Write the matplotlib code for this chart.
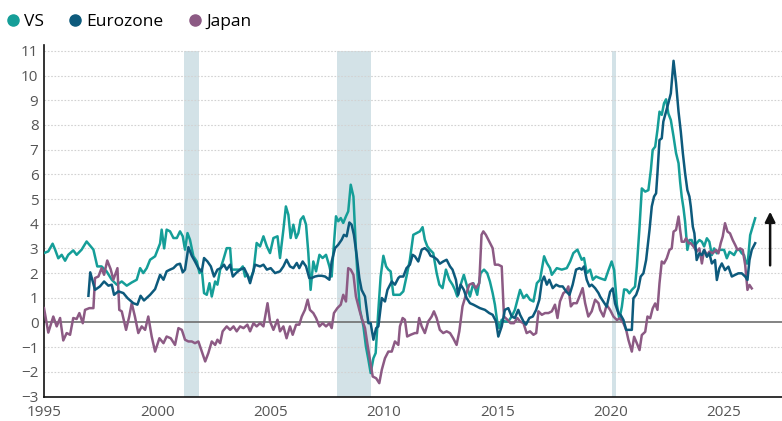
import matplotlib
matplotlib.use("Agg")
import matplotlib.pyplot as plt
from matplotlib.lines import Line2D

plt.rcParams["font.family"] = ["Open Sans", "DejaVu Sans"]

# inflation (% y/y)
vs_years = [1995.00, 1995.19, 1995.38, 1995.49, 1995.63, 1995.78, 1995.93, 1996.07, 1996.29, 1996.44, 1996.66, 1996.88, 1997.00, 1997.18, 1997.35, 1997.54, 1997.76, 1997.99, 1998.21, 1998.43, 1998.65, 1998.87, 1999.09, 1999.24, 1999.38, 1999.53, 1999.68, 1999.90,
            2000.12, 2000.19, 2000.30, 2000.41, 2000.56, 2000.71, 2000.86, 2001.00, 2001.12, 2001.22, 2001.33, 2001.44, 2001.59, 2001.74, 2001.86, 2001.96, 2002.06, 2002.18, 2002.30, 2002.40, 2002.55, 2002.65, 2002.77, 2002.91, 2003.06, 2003.21, 2003.28, 2003.43, 2003.65, 2003.77, 2003.87, 2003.97, 2004.09, 2004.24, 2004.38, 2004.53, 2004.68, 2004.83, 2004.97, 2005.12, 2005.30,
            2005.41, 2005.56, 2005.67, 2005.78, 2005.88, 2006.00, 2006.12, 2006.22, 2006.32, 2006.44, 2006.56, 2006.66, 2006.76, 2006.88, 2007.00, 2007.15, 2007.29, 2007.44, 2007.59, 2007.69, 2007.76, 2007.88, 2007.98, 2008.09, 2008.20, 2008.32, 2008.42, 2008.53, 2008.65, 2008.76, 2008.87, 2008.94, 2009.09, 2009.20, 2009.31, 2009.41, 2009.53, 2009.63, 2009.75, 2009.85, 2009.97, 2010.09, 2010.19, 2010.29, 2010.41, 2010.56,
            2010.70, 2010.85, 2010.99, 2011.14, 2011.29, 2011.44, 2011.58, 2011.70, 2011.80, 2011.91, 2012.02, 2012.17, 2012.32, 2012.44, 2012.58, 2012.73, 2012.88, 2013.02, 2013.13, 2013.23, 2013.38, 2013.52, 2013.64, 2013.79, 2013.94, 2014.11, 2014.26, 2014.41, 2014.55, 2014.67, 2014.79, 2014.89, 2014.99, 2015.08, 2015.19, 2015.33, 2015.48, 2015.63, 2015.77, 2015.92,
            2016.00, 2016.15, 2016.29, 2016.44, 2016.59, 2016.74, 2016.88, 2017.06, 2017.18, 2017.32, 2017.40, 2017.62, 2017.84, 2018.06, 2018.21, 2018.35, 2018.53, 2018.72, 2018.82, 2018.94, 2019.09, 2019.21, 2019.35,
            2019.53, 2019.75, 2019.90, 2020.04, 2020.15, 2020.27, 2020.38, 2020.49, 2020.59, 2020.71, 2020.82, 2020.93, 2021.07, 2021.15, 2021.27, 2021.37, 2021.52, 2021.66, 2021.77, 2021.85, 2021.96, 2022.06, 2022.15, 2022.25, 2022.35, 2022.44, 2022.54, 2022.65, 2022.77, 2022.88, 2022.99, 2023.06, 2023.13, 2023.21, 2023.28, 2023.38, 2023.47, 2023.57, 2023.68, 2023.79, 2023.91, 2024.02, 2024.12, 2024.24, 2024.35, 2024.46, 2024.56, 2024.68, 2024.79, 2024.90, 2025.00, 2025.12, 2025.24, 2025.34, 2025.44, 2025.56, 2025.68, 2025.78, 2025.88, 2025.97, 2026.04, 2026.15, 2026.26, 2026.37]
vs_values = [2.81, 2.88, 3.19, 2.95, 2.6, 2.74, 2.5, 2.74, 2.92, 2.74, 2.95, 3.28, 3.15, 2.95, 2.27, 2.27, 2.07, 1.73, 1.53, 1.66, 1.49, 1.62, 1.73, 2.2, 2.0, 2.2, 2.54, 2.68,
             3.2, 3.76, 3.0, 3.76, 3.69, 3.42, 3.42, 3.69, 3.49, 2.95, 3.62, 3.35, 2.68, 2.47, 2.0, 2.14, 1.19, 1.12, 1.59, 1.05, 1.66, 1.53, 2.14, 2.54, 3.01, 3.01, 2.14, 2.14, 2.14, 2.27, 1.86, 1.93, 1.73, 2.07, 3.22, 3.08, 3.49, 3.08, 2.81, 3.42, 3.49,
             2.61, 3.76, 4.7, 4.36, 3.42, 3.96, 3.42, 3.62, 4.16, 4.3, 3.96, 2.81, 1.32, 2.47, 2.07, 2.74, 2.61, 2.74, 2.27, 1.86, 2.81, 4.3, 4.1, 4.23, 4.03, 4.3, 4.5, 5.58, 5.1, 2.95, 1.32, 0.51, -0.16, -0.97, -1.51, -2.05, -1.45, -1.24, 0.51, 1.86, 2.7, 2.27, 2.14, 2.07, 1.12, 1.12,
             1.12, 1.26, 1.86, 2.54, 3.55, 3.62, 3.69, 3.86, 3.35, 3.08, 2.95, 2.81, 2.0, 1.53, 1.39, 2.14, 1.73, 1.53, 1.32, 1.05, 1.53, 1.93, 1.53, 1.05, 1.59, 1.12, 2.0, 2.14, 2.0, 1.66, 1.19, 0.72, 0.04, -0.23, 0.11, 0.04, 0.04, 0.24, 0.51, 1.05,
             1.32, 0.99, 1.12, 0.92, 0.85, 1.59, 1.73, 2.68, 2.41, 2.2, 1.93, 2.2, 2.14, 2.2, 2.47, 2.81, 2.95, 2.54, 2.61, 2.0, 2.14, 1.73, 1.86,
             1.79, 1.72, 2.12, 2.47, 2.12, 0.72, 0.13, 0.64, 1.34, 1.32, 1.18, 1.32, 1.45, 2.26, 3.88, 5.43, 5.3, 5.36, 6.18, 6.99, 7.12, 7.8, 8.54, 8.41, 8.88, 9.04, 8.47, 8.2, 7.53, 6.86, 6.45, 5.7, 5.1, 4.62, 4.08, 2.94, 3.34, 3.34, 3.08, 3.21, 3.34, 3.27, 3.08, 3.41, 3.27, 2.73, 3.0, 2.8, 2.94, 2.94, 2.94, 2.6, 2.86, 2.8, 2.73, 2.94, 2.94, 2.8, 2.73, 2.39, 2.39, 3.54, 3.88, 4.22]

ez_years = [1996.96, 1997.04, 1997.25, 1997.47, 1997.65, 1997.84, 1997.99, 1998.09, 1998.28, 1998.50, 1998.68, 1998.94, 1999.12, 1999.26, 1999.41, 1999.68, 1999.90,
            2000.12, 2000.27, 2000.41, 2000.56, 2000.71, 2000.86, 2001.00, 2001.12, 2001.22, 2001.37, 2001.52, 2001.66, 2001.81, 2001.96, 2002.06, 2002.21, 2002.36, 2002.50, 2002.65, 2002.80, 2002.94, 2003.06, 2003.21, 2003.33, 2003.47, 2003.65, 2003.83, 2003.97, 2004.09, 2004.31, 2004.53, 2004.68, 2004.83, 2005.00, 2005.19,
            2005.41, 2005.56, 2005.70, 2005.85, 2006.00, 2006.15, 2006.26, 2006.41, 2006.56, 2006.70, 2006.81, 2006.95, 2007.10, 2007.25, 2007.40, 2007.59, 2007.69, 2007.84, 2007.98, 2008.13, 2008.23, 2008.35, 2008.47, 2008.57, 2008.67, 2008.79, 2008.91, 2009.01, 2009.16, 2009.31, 2009.41, 2009.53, 2009.65, 2009.75, 2009.90, 2010.04, 2010.15, 2010.34, 2010.48, 2010.63,
            2010.70, 2010.85, 2010.99, 2011.14, 2011.26, 2011.36, 2011.51, 2011.66, 2011.80, 2011.95, 2012.05, 2012.20, 2012.35, 2012.46, 2012.61, 2012.76, 2012.91, 2013.02, 2013.17, 2013.27, 2013.38, 2013.52, 2013.64, 2013.79, 2013.94, 2014.08, 2014.23, 2014.45, 2014.64, 2014.79, 2014.94, 2015.04, 2015.19, 2015.33, 2015.48, 2015.63, 2015.77, 2015.92,
            2016.00, 2016.15, 2016.26, 2016.41, 2016.56, 2016.71, 2016.85, 2016.96, 2017.06, 2017.18, 2017.29, 2017.44, 2017.59, 2017.74, 2017.88, 2018.03, 2018.18, 2018.32, 2018.47, 2018.62, 2018.72, 2018.82, 2018.94, 2019.06, 2019.16, 2019.31, 2019.46,
            2019.53, 2019.68, 2019.82, 2019.97, 2020.09, 2020.19, 2020.34, 2020.44, 2020.56, 2020.68, 2020.82, 2020.93, 2021.00, 2021.12, 2021.22, 2021.32, 2021.44, 2021.56, 2021.71, 2021.81, 2021.91, 2022.00, 2022.06, 2022.15, 2022.25, 2022.32, 2022.44, 2022.54, 2022.65, 2022.77, 2022.88, 2022.99, 2023.09, 2023.18, 2023.28, 2023.38, 2023.47, 2023.53, 2023.62, 2023.69, 2023.79, 2023.91, 2024.02, 2024.12, 2024.24, 2024.35, 2024.46, 2024.60, 2024.68, 2024.79, 2024.90, 2025.04, 2025.19, 2025.34, 2025.49, 2025.63, 2025.78, 2025.93, 2026.03, 2026.12, 2026.22, 2026.37]
ez_values = [1.08, 2.03, 1.32, 1.46, 1.66, 1.49, 1.53, 1.12, 1.26, 1.19, 0.99, 0.78, 0.72, 1.08, 0.89, 1.12, 1.35,
             1.93, 1.73, 2.07, 2.14, 2.2, 2.34, 2.38, 2.03, 2.14, 3.05, 2.7, 2.47, 2.2, 2.07, 2.61, 2.47, 2.27, 1.86, 2.14, 2.2, 2.34, 2.14, 2.34, 1.86, 2.0, 2.14, 2.2, 1.93, 1.59, 2.34, 2.27, 2.34, 2.14, 2.2, 2.0,
             2.07, 2.27, 2.54, 2.27, 2.2, 2.41, 2.2, 2.47, 2.27, 1.8, 1.8, 1.86, 1.89, 1.89, 1.86, 1.73, 2.47, 3.01, 3.15, 3.35, 3.55, 3.49, 4.05, 3.96, 3.55, 2.74, 1.8, 1.32, 1.05, -0.03, -0.03, -0.7, -0.23, -0.16, 0.99, 0.85, 1.32, 1.66, 1.53, 1.8,
             1.86, 1.86, 2.2, 2.34, 2.74, 2.68, 2.47, 2.95, 3.01, 2.88, 2.7, 2.65, 2.54, 2.38, 2.47, 2.54, 2.27, 2.14, 1.73, 1.12, 1.53, 1.32, 0.99, 0.78, 0.72, 0.65, 0.58, 0.51, 0.38, 0.31, 0.04, -0.57, -0.16, 0.51, 0.58, 0.24, 0.18, 0.51,
             0.31, 0.04, -0.09, 0.18, 0.24, 0.51, 0.92, 1.66, 1.86, 1.53, 1.73, 1.39, 1.53, 1.46, 1.46, 1.26, 1.12, 1.53, 2.14, 2.2, 2.14, 2.27, 1.73, 1.46, 1.53, 1.39, 1.19,
             1.05, 0.84, 0.64, 1.24, 1.38, 0.77, 0.37, 0.3, 0.1, -0.3, -0.3, -0.3, 0.98, 1.12, 1.38, 1.86, 1.99, 2.53, 3.75, 4.7, 5.1, 5.23, 6.04, 7.39, 7.46, 8.14, 8.54, 8.88, 9.28, 10.6, 9.7, 8.54, 7.73, 6.86, 6.04, 5.36, 5.1, 4.7, 3.88, 3.61, 2.53, 2.8, 2.73, 2.94, 2.66, 2.8, 2.39, 2.53, 1.72, 2.19, 2.39, 2.12, 2.26, 1.86, 1.93, 1.99, 1.99, 1.86, 1.72, 2.53, 2.94, 3.21]

jp_years = [1995.00, 1995.19, 1995.41, 1995.56, 1995.71, 1995.85, 1996.00, 1996.15, 1996.29, 1996.44, 1996.56, 1996.71, 1996.81, 1997.00, 1997.18, 1997.25, 1997.40, 1997.54, 1997.65, 1997.79, 1997.94, 1998.06, 1998.24, 1998.32, 1998.43, 1998.62, 1998.76, 1998.87, 1999.01, 1999.16, 1999.31, 1999.46, 1999.60, 1999.75, 1999.90, 2000.09,
            2000.27, 2000.41, 2000.59, 2000.78, 2000.93, 2001.08, 2001.22, 2001.37, 2001.52, 2001.66, 2001.81, 2001.96, 2002.11, 2002.25, 2002.40, 2002.55, 2002.65, 2002.77, 2002.88, 2003.06, 2003.21, 2003.36, 2003.50, 2003.65, 2003.80, 2003.97, 2004.09, 2004.24, 2004.38, 2004.53, 2004.68, 2004.86, 2004.97, 2005.12, 2005.30,
            2005.41, 2005.56, 2005.70, 2005.85, 2005.97, 2006.12, 2006.26, 2006.37, 2006.51, 2006.63, 2006.73, 2006.88, 2007.00, 2007.15, 2007.29, 2007.44, 2007.59, 2007.69, 2007.79, 2007.94, 2008.09, 2008.20, 2008.32, 2008.42, 2008.53, 2008.65, 2008.76, 2008.91, 2009.01, 2009.16, 2009.26, 2009.38, 2009.50, 2009.65, 2009.79, 2009.90, 2010.04, 2010.19, 2010.34, 2010.48, 2010.63,
            2010.70, 2010.82, 2010.92, 2011.02, 2011.17, 2011.36, 2011.46, 2011.55, 2011.66, 2011.80, 2011.95, 2012.10, 2012.20, 2012.32, 2012.46, 2012.61, 2012.76, 2012.91, 2013.05, 2013.20, 2013.32, 2013.46, 2013.61, 2013.76, 2013.91, 2014.05, 2014.20, 2014.30, 2014.38, 2014.49, 2014.64, 2014.79, 2014.89, 2015.04, 2015.19, 2015.29, 2015.44, 2015.58, 2015.73, 2015.88,
            2016.00, 2016.15, 2016.29, 2016.44, 2016.59, 2016.71, 2016.81, 2016.96, 2017.10, 2017.25, 2017.40, 2017.54, 2017.65, 2017.76, 2017.91, 2018.03, 2018.13, 2018.24, 2018.35, 2018.50, 2018.65, 2018.76, 2018.87, 2019.01, 2019.16, 2019.31, 2019.46,
            2019.53, 2019.68, 2019.82, 2019.97, 2020.12, 2020.27, 2020.41, 2020.56, 2020.68, 2020.78, 2020.93, 2021.03, 2021.15, 2021.27, 2021.37, 2021.52, 2021.62, 2021.74, 2021.85, 2021.96, 2022.06, 2022.15, 2022.25, 2022.35, 2022.47, 2022.59, 2022.69, 2022.77, 2022.88, 2022.99, 2023.06, 2023.13, 2023.24, 2023.32, 2023.43, 2023.53, 2023.65, 2023.79, 2023.91, 2024.02, 2024.12, 2024.24, 2024.35, 2024.50, 2024.65, 2024.75, 2024.85, 2024.94, 2025.04, 2025.15, 2025.26, 2025.38, 2025.49, 2025.59, 2025.71, 2025.82, 2025.93, 2026.03, 2026.12, 2026.22]
jp_values = [0.58, -0.41, 0.24, -0.16, 0.18, -0.73, -0.43, -0.5, 0.18, 0.14, 0.38, -0.03, 0.51, 0.58, 0.58, 1.8, 1.86, 2.2, 1.93, 2.51, 2.16, 1.73, 2.2, 0.51, 0.45, -0.3, 0.24, 0.78, 0.24, -0.43, -0.16, -0.3, 0.24, -0.57, -1.18, -0.64,
             -0.84, -0.57, -0.64, -0.91, -0.23, -0.3, -0.7, -0.77, -0.77, -0.84, -0.77, -1.18, -1.58, -1.24, -0.77, -0.91, -0.7, -0.84, -0.36, -0.16, -0.3, -0.16, -0.36, -0.16, -0.23, -0.09, -0.36, -0.03, -0.16, -0.03, -0.16, 0.78, 0.04, -0.3, 0.11,
             -0.36, -0.16, -0.64, -0.16, -0.5, -0.09, -0.09, 0.24, 0.51, 0.92, 0.51, 0.38, 0.18, -0.16, -0.03, -0.16, -0.03, -0.23, 0.38, 0.58, 0.72, 1.12, 0.85, 2.2, 2.14, 1.93, 1.05, 0.51, 0.18, -0.23, -0.84, -1.51, -2.19, -2.26, -2.46, -1.92, -1.45, -1.18, -1.18, -0.77, -0.91,
             -0.16, 0.18, 0.11, -0.57, -0.5, -0.43, -0.43, 0.18, -0.16, -0.43, 0.04, 0.24, 0.45, 0.18, -0.3, -0.43, -0.36, -0.43, -0.64, -0.91, -0.36, 0.65, 1.12, 1.53, 1.59, 1.39, 1.59, 3.55, 3.69, 3.55, 3.28, 3.01, 2.34, 2.34, 2.27, 0.24, 0.11, -0.03, -0.03, 0.18,
             0.04, -0.03, -0.43, -0.36, -0.5, -0.43, 0.45, 0.31, 0.38, 0.38, 0.45, 0.72, 0.18, 0.85, 1.19, 1.26, 1.46, 0.65, 0.78, 0.78, 1.12, 1.39, 0.78, 0.24, 0.45, 0.92, 0.78,
             0.51, 0.24, 0.71, 0.51, 0.24, 0.1, 0.17, -0.03, -0.3, -0.71, -1.18, -0.58, -0.84, -1.12, -0.51, -0.38, 0.24, 0.17, 0.57, 0.77, 0.51, 1.59, 2.47, 2.39, 2.6, 2.94, 3.0, 3.68, 3.75, 4.29, 3.75, 3.27, 3.27, 3.41, 3.21, 3.21, 3.08, 2.87, 3.0, 2.39, 2.94, 2.73, 2.87, 2.8, 2.94, 2.8, 3.21, 3.48, 4.02, 3.68, 3.61, 3.34, 3.14, 2.94, 3.0, 2.94, 2.33, 1.32, 1.52, 1.38]

# recessions (start, end)
recessions = [(2001.17, 2001.84), (2007.92, 2009.42), (2020.05, 2020.23)]

series_names = ["VS", "Eurozone", "Japan"]
colors = ["#159e98", "#0d5a7c", "#8c5a84"]

fig = plt.figure(figsize=(7.82, 4.21), dpi=100)
ax = fig.add_axes([44 / 782, 24.5 / 421, 738 / 782, 351.5 / 421])

for a, b in recessions:
    ax.fill_between([a, b], -3, 11, color="#d3e2e7", lw=0, zorder=0)

for y in range(-2, 12):
    if y == 0:
        continue
    ax.axhline(y, color="#d2d2d2", lw=0.8, ls=(0, (1.5, 1.5)), zorder=1)
ax.axhline(0, color="#6e6e6e", lw=1.2, zorder=1.5)

ax.plot(vs_years, vs_values, color=colors[0], lw=1.8, zorder=3)
ax.plot(ez_years, ez_values, color=colors[1], lw=1.8, zorder=4)
ax.plot(jp_years, jp_values, color=colors[2], lw=1.8, zorder=3.5)

ax.annotate("", xy=(2027.03, 4.6), xytext=(2027.03, 2.2),
            arrowprops=dict(arrowstyle="-|>,head_width=0.3,head_length=0.6", color="#111111", lw=1.8))

ax.set_xlim(1995, 1995 + 738 / 22.67)
ax.set_ylim(-3, 11.24)
ax.set_xticks(range(1995, 2026, 5))
ax.set_yticks(range(-3, 12))
ax.tick_params(axis="both", length=0, labelsize=11, labelcolor="#555555")
ax.tick_params(axis="x", pad=6)
ax.tick_params(axis="y", pad=4)
for s in ["top", "right"]:
    ax.spines[s].set_visible(False)
for s in ["left", "bottom"]:
    ax.spines[s].set_color("#111111")
    ax.spines[s].set_linewidth(1.2)

handles = [Line2D([], [], ls="", marker="o", markersize=8, color=c) for c in colors]
fig.legend(handles, series_names, loc="upper left", bbox_to_anchor=(-0.017, 1.004), ncol=3,
           frameon=False, fontsize=12.5, handletextpad=0.05, columnspacing=1.2, handlelength=1.2)

fig.savefig("out.png", dpi=100)
